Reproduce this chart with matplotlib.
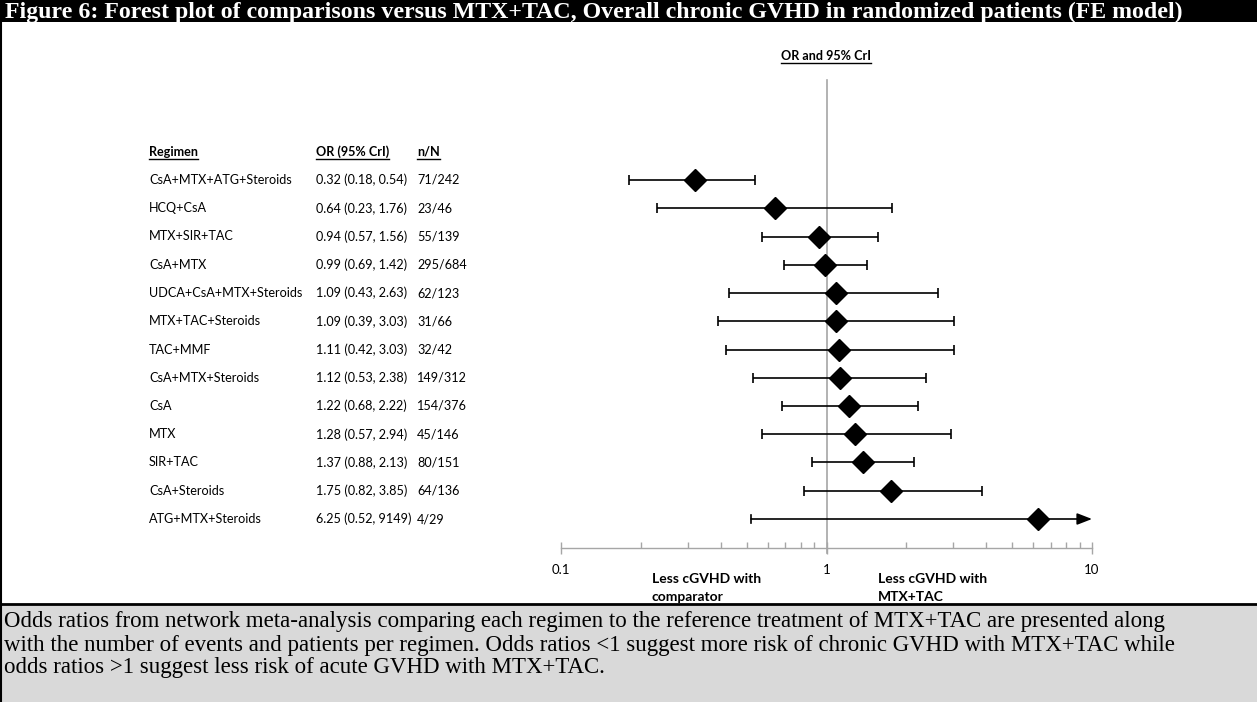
import numpy as np
import matplotlib
matplotlib.use('Agg')
import matplotlib.pyplot as plt
from matplotlib.lines import Line2D
from matplotlib.patches import Rectangle

regimens = ['CsA+MTX+ATG+Steroids', 'HCQ+CsA', 'MTX+SIR+TAC', 'CsA+MTX',
            'UDCA+CsA+MTX+Steroids', 'MTX+TAC+Steroids', 'TAC+MMF',
            'CsA+MTX+Steroids', 'CsA', 'MTX', 'SIR+TAC', 'CsA+Steroids',
            'ATG+MTX+Steroids']
odds = [0.32, 0.64, 0.94, 0.99, 1.09, 1.09, 1.11, 1.12, 1.22, 1.28, 1.37, 1.75, 6.25]
lower = [0.18, 0.23, 0.57, 0.69, 0.43, 0.39, 0.42, 0.53, 0.68, 0.57, 0.88, 0.82, 0.52]
upper = [0.54, 1.76, 1.56, 1.42, 2.63, 3.03, 3.03, 2.38, 2.22, 2.94, 2.13, 3.85, 9149]
n_over_N = ['71/242', '23/46', '55/139', '295/684', '62/123', '31/66', '32/42',
            '149/312', '154/376', '45/146', '80/151', '64/136', '4/29']

W, H = 1257, 702
fig = plt.figure(figsize=(W / 100, H / 100), dpi=100)
fig.patch.set_facecolor('white')

sans = 'Lato'
serif = 'Liberation Serif'
fs = 9.1

def fx(px):
    return px / W

def fy(py):
    return 1 - py / H

# title bar
fig.patches.append(Rectangle((0, fy(22)), 1, 22 / H, transform=fig.transFigure,
                             facecolor='black', edgecolor='none', zorder=0))
fig.text(fx(5), fy(12), 'Figure 6: Forest plot of comparisons versus MTX+TAC, Overall chronic GVHD in randomized patients (FE model)',
         color='white', fontsize=17.2, fontweight='bold', family=serif, va='center', ha='left')

# caption box
fig.patches.append(Rectangle((0, 0), 1, fy(604), transform=fig.transFigure,
                             facecolor='#d9d9d9', edgecolor='none', zorder=0))
fig.lines.append(Line2D([0, 1], [fy(604), fy(604)], transform=fig.transFigure,
                        color='black', lw=2))
fig.lines.append(Line2D([fx(1), fx(1)], [0, fy(22)], transform=fig.transFigure,
                        color='black', lw=1.5))
caption = ['Odds ratios from network meta-analysis comparing each regimen to the reference treatment of MTX+TAC are presented along',
           'with the number of events and patients per regimen. Odds ratios <1 suggest more risk of chronic GVHD with MTX+TAC while',
           'odds ratios >1 suggest less risk of acute GVHD with MTX+TAC.']
for i, line in enumerate(caption):
    fig.text(fx(4), fy(622 + 23 * i), line, family=serif, fontsize=16.5,
             va='center', ha='left', color='black')

# forest axes: 0.1 at px 561, 10 at px 1092; rows 0..12 at py 180..519
row_step = (519 - 180) / 12
ax_top, ax_bot = 80, 548
ax = fig.add_axes([fx(561), fy(ax_bot), (1092 - 561) / W, (ax_bot - ax_top) / H])
ax.set_xscale('log')
ax.set_xlim(0.1, 10)
ax.set_ylim((ax_bot - 180) / row_step, (ax_top - 180) / row_step)
ax.patch.set_alpha(0)
for s in ['top', 'left', 'right']:
    ax.spines[s].set_visible(False)
ax.spines['bottom'].set_color('#a6a6a6')
ax.spines['bottom'].set_linewidth(1)
ax.set_yticks([])
ax.set_xticks([0.1, 1, 10])
ax.set_xticklabels(['0.1', '1', '10'])
ax.tick_params(axis='x', which='major', direction='inout', length=9, width=1,
               color='#a6a6a6', pad=7, labelsize=9.5)
ax.tick_params(axis='x', which='minor', direction='in', length=4, width=1,
               color='#a6a6a6')
for lab in ax.get_xticklabels():
    lab.set_family(sans)
ax.xaxis.set_minor_formatter(matplotlib.ticker.NullFormatter())

ylo, yhi = ax.get_ylim()
ax.plot([1, 1], [yhi, ylo + 0.18], color='#a6a6a6', lw=1.2, clip_on=False, zorder=1)

rows = np.arange(len(regimens))
xmax = ax.get_xlim()[1]
for r, o, lo, hi in zip(rows, odds, lower, upper):
    if hi > xmax:
        ax.plot([lo, lo], [r - 0.13, r + 0.13], color='black', lw=1.2, zorder=2)
        ax.annotate('', xy=(xmax, r), xytext=(lo, r),
                    arrowprops=dict(arrowstyle='-|>,head_length=0.9,head_width=0.35',
                                    color='black', lw=1.2, shrinkA=0, shrinkB=0),
                    zorder=2)
    else:
        ax.errorbar(o, r, xerr=[[o - lo], [hi - o]], fmt='none', ecolor='black',
                    elinewidth=1.2, capsize=3.5, capthick=1.2, zorder=2)
    ax.plot(o, r, marker='D', color='black', markersize=11, zorder=3, clip_on=False)

# text columns (figure x, data rows)
tr = matplotlib.transforms.blended_transform_factory(fig.transFigure, ax.transData)
col_x = [149, 316, 417]
headers = ['Regimen', 'OR (95% CrI)', 'n/N']
head_texts = []
for cx, h in zip(col_x, headers):
    head_texts.append(ax.text(fx(cx), -1, h, transform=tr, family=sans, fontsize=fs,
                              fontweight='bold', va='center', ha='left', clip_on=False))
for r in rows:
    ax.text(fx(col_x[0]), r, regimens[r], transform=tr, family=sans, fontsize=fs,
            va='center', ha='left', clip_on=False)
    ax.text(fx(col_x[1]), r, '%.2f (%.2f, %s)' % (odds[r], lower[r],
            ('%.2f' % upper[r]) if upper[r] < 100 else '%d' % upper[r]),
            transform=tr, family=sans, fontsize=fs, va='center', ha='left', clip_on=False)
    ax.text(fx(col_x[2]), r, n_over_N[r], transform=tr, family=sans, fontsize=fs,
            va='center', ha='left', clip_on=False)

t_or = fig.text(fx(826), fy(56), 'OR and 95% CrI', family=sans, fontsize=fs,
                fontweight='bold', va='center', ha='center')
head_texts.append(t_or)

for x0, lines in [(652, ['Less cGVHD with', 'comparator']),
                  (878, ['Less cGVHD with', 'MTX+TAC'])]:
    for i, s in enumerate(lines):
        fig.text(fx(x0), fy(579 + 18 * i), s, family=sans, fontsize=10,
                 fontweight='bold', va='center', ha='left')

# underline the header texts
fig.canvas.draw()
rend = fig.canvas.get_renderer()
for t in head_texts:
    bb = t.get_window_extent(rend)
    yline = bb.y0 - 1
    fig.lines.append(Line2D([bb.x0 / W, bb.x1 / W], [yline / H, yline / H],
                            transform=fig.transFigure, color='black', lw=1))

fig.savefig('out.png', dpi=100)
